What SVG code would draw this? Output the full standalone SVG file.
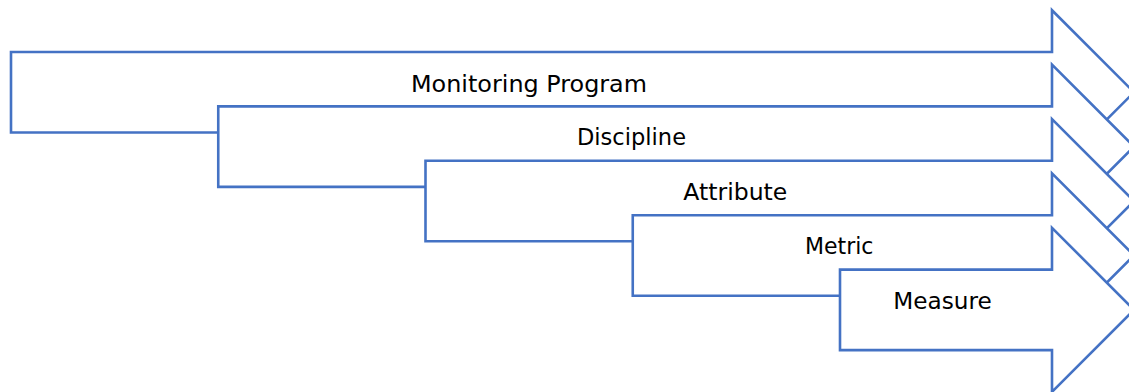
<svg xmlns="http://www.w3.org/2000/svg" width="1129" height="392" viewBox="0 0 1129 392">
  <style>
    .arrow { fill: #ffffff; stroke: #4472C4; stroke-width: 2.6; stroke-linejoin: miter; }
    .label { font-family: "DejaVu Sans", Verdana, sans-serif; font-size: 22.5px; fill: #000000; text-anchor: middle; }
  </style>
  <rect x="0" y="0" width="1129" height="392" fill="#ffffff"/>
  <g id="node-monitoring-program">
    <path class="arrow" d="M11,52 H1052 V10.25 L1134,92.25 L1052,174.25 V132.5 H11 Z"/>
    <text class="label" x="529" y="92" textLength="236" lengthAdjust="spacingAndGlyphs">Monitoring Program</text>
  </g>
  <g id="node-discipline">
    <path class="arrow" d="M218.25,106.4 H1052 V64.65 L1134,146.65 L1052,228.65 V186.9 H218.25 Z"/>
    <text class="label" x="631.5" y="145" textLength="109" lengthAdjust="spacingAndGlyphs">Discipline</text>
  </g>
  <g id="node-attribute">
    <path class="arrow" d="M425.5,160.8 H1052 V119.05 L1134,201.05 L1052,283.05 V241.3 H425.5 Z"/>
    <text class="label" x="735.3" y="200" textLength="104" lengthAdjust="spacingAndGlyphs">Attribute</text>
  </g>
  <g id="node-metric">
    <path class="arrow" d="M632.75,215.2 H1052 V173.45 L1134,255.45 L1052,337.45 V295.7 H632.75 Z"/>
    <text class="label" x="839.2" y="254" textLength="68.5" lengthAdjust="spacingAndGlyphs">Metric</text>
  </g>
  <g id="node-measure">
    <path class="arrow" d="M840,269.6 H1052 V227.85 L1134,309.85 L1052,391.85 V350.1 H840 Z"/>
    <text class="label" x="942.5" y="308.5" textLength="98.5" lengthAdjust="spacingAndGlyphs">Measure</text>
  </g>
</svg>
